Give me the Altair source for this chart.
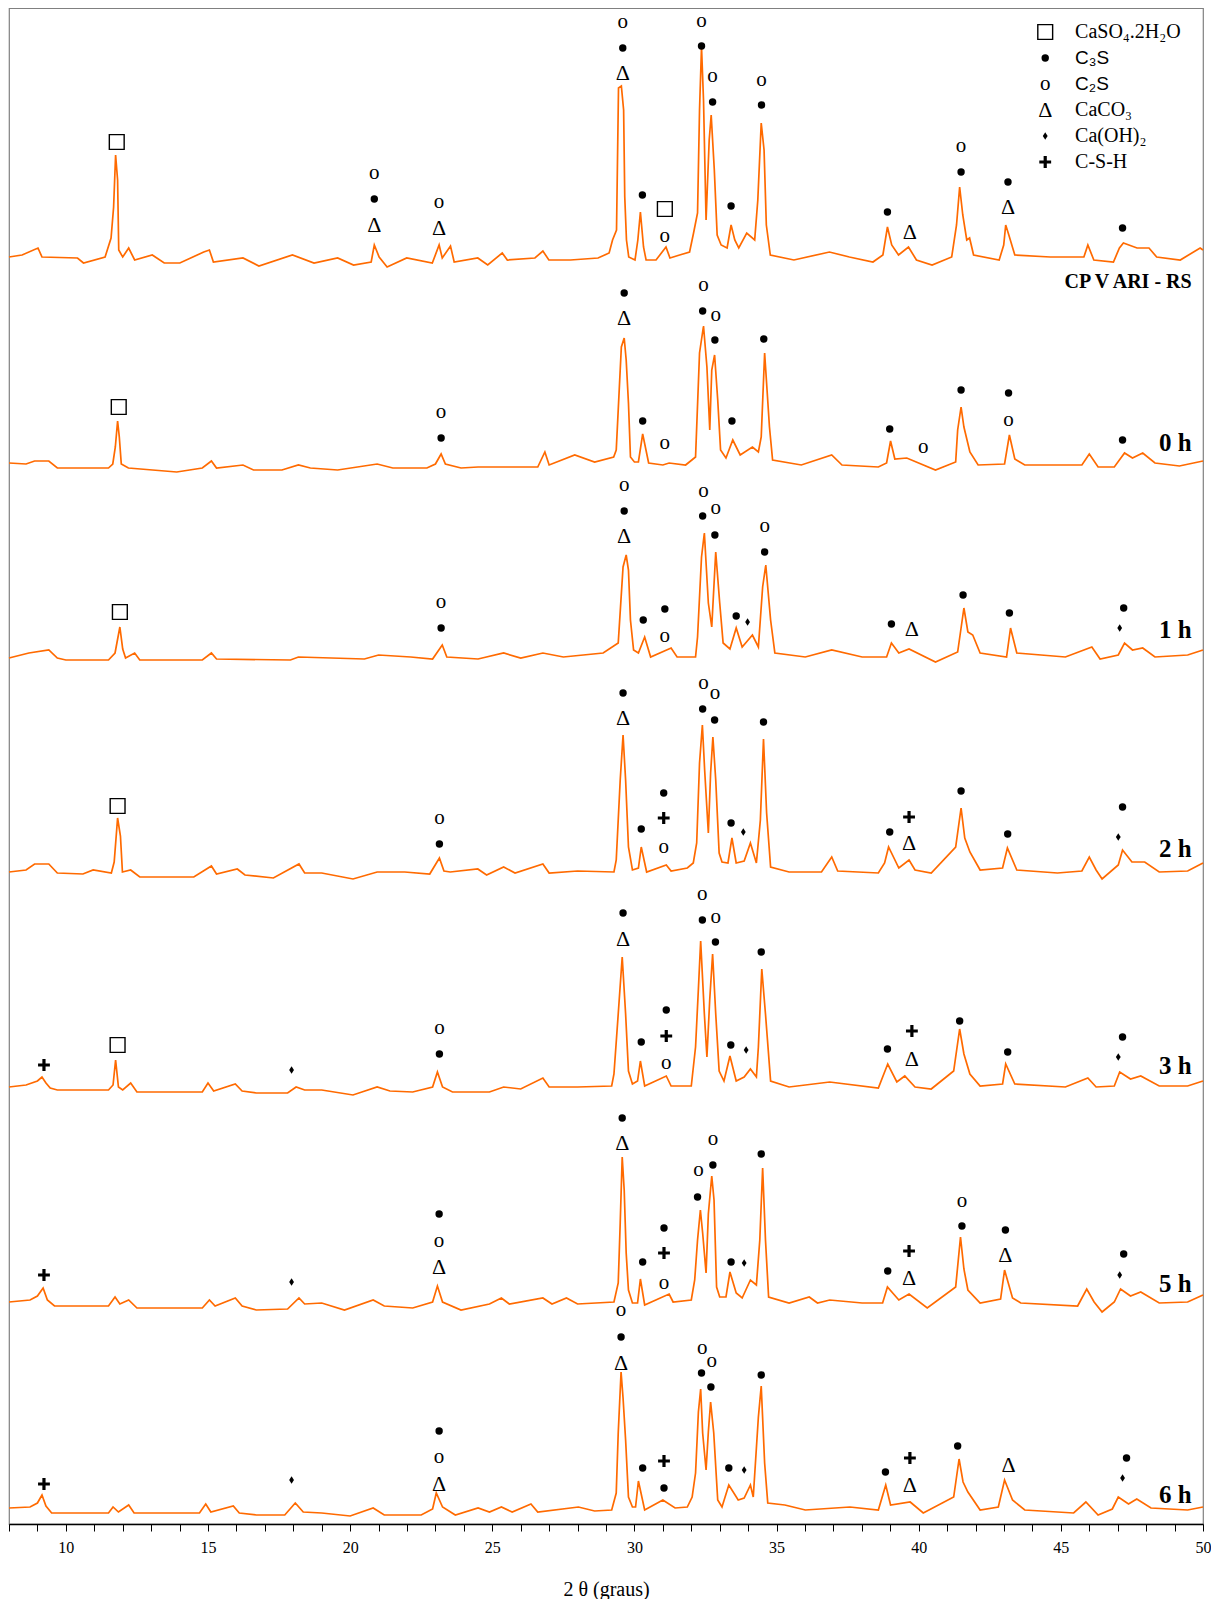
import altair as alt
import pandas as pd

# ---------------- data ----------------
X_MIN, X_MAX = 8, 50
Y_MAX = 1516  # vertical extent of the plot in intensity units (a.u.)

SERIES = ["CP V ARI - RS", "0 h", "1 h", "2 h", "3 h", "5 h", "6 h"]
OFFSETS = [1264, 1057, 867, 651, 435, 220, 12]     # vertical shift of each pattern
LABEL_X = 49.6
LABEL_REL = [-22, 24, 27, 24, 23, 20, 17]
LABEL_SIZE = [20, 25, 25, 25, 25, 25, 25]

# (2theta, intensity above the pattern's baseline)
CP = [[8.0,3],[8.46,5],[9.02,12],[9.16,3],[10.41,2],[10.62,-3],[11.38,3],[11.59,22],[11.68,53],[11.75,105],
      [11.82,80],[11.86,10],[12.0,3],[12.21,12],[12.42,0],[13.04,5],[13.46,-3],[14.01,-3],[14.85,8],[15.05,10],
      [15.19,-2],[16.23,2],[16.79,-6],[17.97,5],[18.73,-3],[19.56,2],[20.12,-5],[20.74,-2],[20.85,15],[21.02,3],
      [21.3,-7],[21.99,2],[22.89,-3],[23.13,15],[23.24,2],[23.53,14],[23.66,-2],[24.49,2],[24.84,-5],[25.35,7],
      [25.53,0],[26.5,2],[26.78,9],[26.99,0],[27.75,0],[28.72,2],[29.11,7],[29.23,20],[29.37,30],[29.44,172],
      [29.54,174],[29.62,150],[29.66,63],[29.72,20],[29.8,3],[30.02,0],[30.12,20],[30.21,48],[30.32,13],[30.41,0],
      [30.76,0],[31.11,13],[31.25,2],[31.59,5],[31.94,8],[32.08,27],[32.22,47],[32.29,150],[32.36,213],[32.43,160],
      [32.52,40],[32.63,120],[32.7,145],[32.81,90],[32.91,25],[33.05,15],[33.26,12],[33.4,35],[33.53,20],[33.67,12],
      [33.95,27],[34.23,20],[34.34,60],[34.46,137],[34.56,110],[34.64,35],[34.78,5],[35.61,0],[36.86,8],[37.56,3],
      [38.39,-2],[38.74,5],[38.9,33],[39.05,15],[39.29,5],[39.64,13],[39.92,0],[40.47,-5],[41.16,3],[41.33,35],
      [41.44,73],[41.55,45],[41.69,20],[41.79,22],[41.93,5],[42.83,0],[42.99,15],[43.06,35],[43.17,25],[43.38,5],
      [44.63,3],[45.81,3],[45.95,15],[46.16,0],[46.85,-2],[47.06,12],[47.2,17],[47.68,12],[48.1,12],[48.37,3],
      [49.2,0],[49.9,12],[50.0,10]]

H0 = [[8.0,4],[8.6,3],[8.9,6],[9.4,6],[9.7,-1],[11.5,-1],[11.65,3],[11.74,20],[11.82,46],[11.88,30],[11.95,3],
      [12.2,-1],[13.9,-5],[14.8,-1],[15.12,6],[15.3,-1],[16.23,2],[16.6,-3],[17.6,-3],[18.18,2],[18.6,-1],[19.56,-3],
      [20.95,3],[21.5,-1],[22.7,-1],[23.0,3],[23.2,13],[23.35,3],[23.9,-1],[24.5,0],[26.6,0],[26.85,15],[27.0,2],
      [27.9,12],[28.6,5],[29.27,10],[29.36,17],[29.54,120],[29.64,129],[29.71,107],[29.79,64],[29.86,10],[30.0,5],
      [30.14,5],[30.29,33],[30.5,4],[31.0,2],[31.22,4],[31.8,2],[32.15,10],[32.29,114],[32.43,141],[32.55,100],
      [32.65,37],[32.72,97],[32.82,112],[32.93,67],[33.03,17],[33.22,9],[33.46,27],[33.72,12],[34.15,20],[34.36,15],
      [34.46,30],[34.58,114],[34.75,40],[34.86,7],[35.87,2],[36.94,12],[37.3,2],[38.58,0],[38.87,4],[39.01,26],
      [39.16,8],[39.58,9],[40.59,-3],[41.3,5],[41.37,37],[41.49,60],[41.59,40],[41.8,15],[42.09,2],[43.02,3],
      [43.19,32],[43.38,8],[43.73,2],[45.74,2],[46.0,13],[46.31,0],[46.88,0],[47.24,14],[47.52,9],[47.88,14],
      [48.31,4],[49.17,1],[50.0,6]]

H1 = [[8.0,-1],[8.7,4],[9.4,7],[9.7,-1],[10.0,-3],[11.5,-3],[11.73,4],[11.9,30],[12.0,8],[12.1,-1],[12.42,4],
      [12.6,-3],[14.8,-3],[15.12,4],[15.3,-2],[17.9,-3],[18.18,0],[20.5,-2],[21.0,2],[22.13,0],[22.9,-2],[23.24,12],
      [23.4,0],[24.5,-2],[25.4,4],[26.0,-1],[26.78,4],[27.5,0],[28.9,4],[29.43,14],[29.6,90],[29.71,102],[29.79,87],
      [29.86,37],[29.97,7],[30.14,4],[30.36,20],[30.57,0],[31.29,9],[31.5,0],[32.15,0],[32.22,20],[32.36,100],
      [32.46,124],[32.6,54],[32.72,30],[32.86,105],[33.0,54],[33.12,14],[33.36,8],[33.58,29],[33.79,10],[34.15,22],
      [34.36,10],[34.51,70],[34.62,92],[34.79,37],[34.94,4],[36.01,0],[36.94,7],[38.01,0],[38.87,0],[39.04,14],
      [39.3,4],[39.66,8],[40.59,-5],[41.37,5],[41.59,49],[41.73,25],[41.9,22],[42.16,4],[43.09,0],[43.23,29],
      [43.45,4],[45.16,0],[46.09,10],[46.38,-2],[47.02,2],[47.24,14],[47.52,7],[47.88,9],[48.31,0],[49.46,2],[50.0,7]]

H2 = [[8.0,1],[8.6,3],[8.9,9],[9.4,9],[9.7,0],[10.6,-1],[10.96,3],[11.6,0],[11.7,11],[11.82,55],[11.92,37],
      [11.99,1],[12.28,3],[12.6,-4],[14.5,-4],[15.12,7],[15.3,-1],[16.03,4],[16.3,-2],[17.3,-5],[18.2,9],[18.4,0],
      [19.0,0],[20.1,-6],[20.95,1],[21.92,1],[22.8,-1],[23.14,15],[23.3,2],[23.52,1],[24.49,4],[24.8,-2],[25.4,6],
      [25.8,0],[26.78,9],[27.0,0],[28.0,2],[29.28,1],[29.36,13],[29.5,93],[29.6,138],[29.69,93],[29.79,26],[29.93,3],
      [30.14,5],[30.24,26],[30.43,1],[31.12,8],[31.29,2],[31.86,5],[32.07,10],[32.19,30],[32.29,110],[32.39,148],
      [32.47,103],[32.6,40],[32.68,100],[32.76,136],[32.86,93],[32.98,20],[33.08,11],[33.29,10],[33.43,35],[33.58,10],
      [33.86,12],[34.08,30],[34.29,10],[34.43,53],[34.54,134],[34.65,60],[34.79,6],[35.44,1],[36.58,1],[36.94,16],
      [37.15,2],[38.58,0],[38.8,10],[38.94,26],[39.3,5],[39.66,13],[39.87,3],[40.44,0],[41.3,26],[41.49,65],
      [41.62,35],[41.8,21],[42.16,3],[42.95,5],[43.12,25],[43.45,3],[44.88,0],[45.74,2],[46.0,16],[46.24,3],
      [46.45,-6],[47.02,8],[47.17,23],[47.5,11],[47.95,11],[48.46,1],[49.46,2],[50.0,10]]

H3 = [[8.0,2],[8.6,4],[9.0,8],[9.16,12],[9.3,6],[9.45,1],[9.7,-1],[11.5,-1],[11.66,4],[11.75,29],[11.85,2],
      [12.0,-1],[12.28,6],[12.5,-3],[14.8,-3],[15.0,6],[15.2,-2],[15.96,5],[16.2,-2],[16.7,-4],[17.8,-4],[18.1,2],
      [18.4,-1],[19.0,-1],[20.1,-6],[20.95,2],[21.4,-2],[22.2,-3],[22.9,2],[23.07,17],[23.25,2],[23.6,-3],[24.9,-3],
      [25.4,2],[26.0,0],[26.78,11],[27.0,2],[28.0,2],[29.2,3],[29.28,15],[29.43,75],[29.57,132],[29.69,75],
      [29.79,18],[29.93,5],[30.11,8],[30.21,28],[30.36,3],[31.12,13],[31.29,3],[32.0,3],[32.15,42],[32.25,100],
      [32.33,148],[32.46,75],[32.55,32],[32.65,90],[32.75,135],[32.86,75],[32.98,18],[33.15,8],[33.36,33],[33.58,8],
      [33.86,12],[34.08,20],[34.29,12],[34.36,42],[34.48,120],[34.61,75],[34.79,8],[35.44,2],[36.87,7],[38.58,1],
      [38.91,25],[39.23,7],[39.51,13],[39.87,2],[40.44,0],[41.23,18],[41.44,60],[41.59,35],[41.8,15],[42.16,3],
      [42.95,5],[43.06,25],[43.38,5],[45.16,2],[45.95,11],[46.24,2],[46.88,3],[47.07,17],[47.45,10],[47.81,13],
      [48.46,3],[49.46,3],[50.0,8]]

H5 = [[8.0,2],[8.74,4],[9.0,8],[9.2,16],[9.35,4],[9.6,-2],[11.5,-2],[11.73,7],[11.9,0],[12.21,4],[12.5,-4],
      [14.8,-4],[15.05,4],[15.25,-2],[15.96,6],[16.2,-2],[16.7,-6],[17.8,-5],[18.2,6],[18.4,0],[19.0,1],[19.8,-6],
      [20.81,4],[21.2,-2],[22.2,-4],[22.9,2],[23.07,18],[23.25,2],[23.9,-6],[24.9,0],[25.32,6],[25.6,0],[26.78,6],
      [27.1,0],[27.61,6],[28.0,0],[29.28,2],[29.43,21],[29.5,81],[29.57,147],[29.64,114],[29.71,51],[29.79,14],
      [29.93,1],[30.11,1],[30.21,25],[30.36,-1],[31.22,10],[31.36,2],[32.0,4],[32.12,24],[32.22,64],[32.32,94],
      [32.4,71],[32.52,31],[32.6,90],[32.72,128],[32.8,104],[32.89,17],[33.0,7],[33.22,7],[33.36,32],[33.58,11],
      [33.79,6],[34.08,24],[34.29,19],[34.41,64],[34.51,136],[34.61,64],[34.72,7],[35.44,1],[36.15,7],[36.44,1],
      [36.87,4],[38.01,1],[38.73,1],[38.9,17],[39.3,4],[39.66,10],[40.3,-4],[41.3,17],[41.47,67],[41.59,35],
      [41.73,14],[42.16,1],[42.88,5],[43.02,34],[43.3,6],[43.59,1],[45.59,-2],[45.91,15],[46.17,2],[46.45,-8],
      [46.88,2],[47.1,15],[47.45,8],[47.81,12],[48.46,1],[49.46,2],[50.0,9]]

H6 = [[8.0,4],[8.74,5],[9.0,9],[9.16,17],[9.3,6],[9.5,-1],[11.5,-1],[11.66,5],[11.85,0],[12.21,7],[12.4,-1],
      [14.7,-1],[14.92,8],[15.1,0],[15.89,6],[16.1,-1],[16.7,-3],[17.7,-3],[18.07,9],[18.35,0],[19.0,-1],[20.0,-4],
      [20.81,4],[21.2,-3],[22.5,-3],[22.9,3],[23.03,19],[23.25,5],[23.7,-3],[24.5,4],[24.9,0],[25.32,5],[25.7,0],
      [26.36,8],[26.6,0],[28.03,5],[28.6,1],[29.2,2],[29.36,19],[29.43,79],[29.53,140],[29.6,114],[29.69,72],
      [29.79,15],[29.93,5],[30.04,5],[30.14,31],[30.36,2],[31.0,12],[31.43,4],[31.86,5],[32.03,15],[32.15,39],
      [32.25,100],[32.33,123],[32.4,79],[32.52,42],[32.6,80],[32.68,110],[32.79,79],[32.93,12],[33.08,5],[33.32,27],
      [33.65,12],[33.86,14],[34.08,27],[34.18,15],[34.36,95],[34.46,126],[34.58,49],[34.69,9],[35.29,7],[36.01,2],
      [37.58,5],[38.58,2],[38.84,27],[39.01,7],[39.7,10],[40.16,-1],[41.23,15],[41.42,53],[41.56,30],[41.73,20],
      [42.16,2],[42.8,5],[43.02,32],[43.3,12],[43.73,2],[45.45,-1],[45.88,10],[46.31,-3],[46.81,3],[47.02,15],
      [47.38,8],[47.67,13],[48.17,4],[49.46,2],[50.0,5]]

PATTERNS = [CP, H0, H1, H2, H3, H5, H6]

# phase marks: (2theta, height above the pattern's baseline, symbol)
ANN_CP = [(11.79,118,"box"),(20.85,87,"o"),(20.85,61,"dot"),(20.85,35,"delta"),(23.13,58,"o"),(23.13,32,"delta"),
          (29.59,238,"o"),(29.59,212,"dot"),(29.59,187,"delta"),(30.28,65,"dot"),(31.07,51,"box"),(31.07,24,"o"),
          (32.36,239,"o"),(32.36,214,"dot"),(32.75,184,"o"),(32.75,158,"dot"),(33.4,54,"dot"),(34.47,180,"o"),
          (34.47,155,"dot"),(38.9,48,"dot"),(39.69,28,"delta"),(41.49,114,"o"),(41.49,88,"dot"),(43.14,78,"dot"),
          (43.14,53,"delta"),(47.17,32,"dot")]
ANN_0 = [(11.86,60,"box"),(23.2,55,"o"),(23.2,29,"dot"),(29.64,174,"dot"),(29.64,149,"delta"),(30.29,46,"dot"),
         (31.07,24,"o"),(32.43,182,"o"),(32.4,156,"dot"),(32.86,152,"o"),(32.83,127,"dot"),(33.43,46,"dot"),
         (34.55,128,"dot"),(38.98,38,"dot"),(40.16,20,"o"),(41.49,77,"dot"),(43.16,74,"dot"),(43.16,47,"o"),
         (47.17,27,"dot")]
ANN_1 = [(11.9,45,"box"),(23.2,55,"o"),(23.2,29,"dot"),(29.64,172,"o"),(29.64,146,"dot"),(29.64,121,"delta"),
         (30.31,37,"dot"),(31.07,48,"dot"),(31.07,21,"o"),(32.43,166,"o"),(32.4,141,"dot"),(32.86,149,"o"),
         (32.83,122,"dot"),(33.58,41,"dot"),(33.98,35,"diam"),(34.58,131,"o"),(34.58,105,"dot"),(39.04,33,"dot"),
         (39.76,28,"delta"),(41.56,62,"dot"),(43.19,44,"dot"),(47.21,49,"dot"),(47.07,29,"diam")]
ANN_2 = [(11.82,67,"box"),(23.14,55,"o"),(23.14,29,"dot"),(29.6,180,"dot"),(29.6,155,"delta"),(30.24,44,"dot"),
         (31.03,80,"dot"),(31.03,55,"plus"),(31.03,26,"o"),(32.43,190,"o"),(32.4,164,"dot"),(32.83,180,"o"),
         (32.82,153,"dot"),(33.4,50,"dot"),(33.83,41,"diam"),(34.54,151,"dot"),(38.98,41,"dot"),(39.66,56,"plus"),
         (39.66,30,"delta"),(41.49,82,"dot"),(43.13,39,"dot"),(47.17,66,"dot"),(47.02,36,"diam")]
ANN_3 = [(9.23,24,"plus"),(11.82,44,"box"),(17.94,19,"diam"),(23.14,61,"o"),(23.14,35,"dot"),(29.6,176,"dot"),
         (29.6,150,"delta"),(30.24,47,"dot"),(31.12,79,"dot"),(31.12,53,"plus"),(31.12,26,"o"),(32.39,195,"o"),
         (32.39,169,"dot"),(32.86,172,"o"),(32.85,147,"dot"),(33.39,44,"dot"),(33.93,39,"diam"),(34.46,137,"dot"),
         (38.9,40,"dot"),(39.76,58,"plus"),(39.76,30,"delta"),(41.44,68,"dot"),(43.13,37,"dot"),(47.17,52,"dot"),
         (47.02,32,"diam")]
ANN_5 = [(9.23,29,"plus"),(17.94,22,"diam"),(23.13,90,"dot"),(23.13,63,"o"),(23.13,37,"delta"),(29.57,186,"dot"),
         (29.57,161,"delta"),(30.29,42,"dot"),(31.04,76,"dot"),(31.04,51,"plus"),(31.04,21,"o"),(32.25,134,"o"),
         (32.22,107,"dot"),(32.76,165,"o"),(32.76,139,"dot"),(33.4,42,"dot"),(33.86,41,"diam"),(34.46,150,"dot"),
         (38.91,33,"dot"),(39.66,53,"plus"),(39.66,26,"delta"),(41.52,103,"o"),(41.52,78,"dot"),(43.05,74,"dot"),
         (43.05,49,"delta"),(47.21,50,"dot"),(47.07,29,"diam")]
ANN_6 = [(9.23,28,"plus"),(17.94,32,"diam"),(23.13,81,"dot"),(23.13,55,"o"),(23.13,28,"delta"),(29.53,202,"o"),
         (29.53,175,"dot"),(29.53,149,"delta"),(30.29,44,"dot"),(31.04,51,"plus"),(31.04,24,"dot"),(32.39,164,"o"),
         (32.36,139,"dot"),(32.72,151,"o"),(32.69,125,"dot"),(33.32,44,"dot"),(33.86,42,"diam"),(34.46,137,"dot"),
         (38.83,40,"dot"),(39.69,54,"plus"),(39.69,27,"delta"),(41.37,66,"dot"),(43.16,47,"delta"),(47.31,54,"dot"),
         (47.17,34,"diam")]
ANNS = [ANN_CP, ANN_0, ANN_1, ANN_2, ANN_3, ANN_5, ANN_6]

LEGEND_SYMS = ["box", "dot", "o", "delta", "diam", "plus"]
LEGEND_TEXT = ["CaSO₄.2H₂O", "C₃S", "C₂S", "CaCO₃", "Ca(OH)₂", "C-S-H"]
LEGEND_SANS = [False, True, True, False, False, False]
LEGEND_SYM_X, LEGEND_TXT_X = 44.45, 45.5
LEGEND_TOP, LEGEND_STEP = 1492, 26

GLYPH = {"o": "o", "delta": "Δ"}
GLYPH_SIZE = {"o": 21, "delta": 22}

# ---------------- tables ----------------
line_rows = []
for name, off, pts in zip(SERIES, OFFSETS, PATTERNS):
    for i, (t, v) in enumerate(pts):
        line_rows.append({"series": name, "idx": i, "tth": t, "y": off + v})
lines = pd.DataFrame(line_rows)

ann_rows = []
for name, off, ann in zip(SERIES, OFFSETS, ANNS):
    for t, h, s in ann:
        ann_rows.append({"tth": t, "y": off + h, "sym": s})
for i, s in enumerate(LEGEND_SYMS):
    ann_rows.append({"tth": LEGEND_SYM_X, "y": LEGEND_TOP - i * LEGEND_STEP, "sym": s})
ann = pd.DataFrame(ann_rows)
ann["glyph"] = ann["sym"].map(GLYPH).fillna("")
ann["fs"] = ann["sym"].map(GLYPH_SIZE).fillna(0)

legend = pd.DataFrame({
    "tth": [LEGEND_TXT_X] * len(LEGEND_TEXT),
    "y": [LEGEND_TOP - i * LEGEND_STEP for i in range(len(LEGEND_TEXT))],
    "label": LEGEND_TEXT,
    "sans": LEGEND_SANS,
})

labels = pd.DataFrame({
    "tth": [LABEL_X] * len(SERIES),
    "y": [o + r for o, r in zip(OFFSETS, LABEL_REL)],
    "label": SERIES,
    "fs": LABEL_SIZE,
})

# ---------------- chart ----------------
SERIF = "Liberation Serif"
xscale = alt.Scale(domain=[X_MIN, X_MAX], nice=False, zero=False)
yscale = alt.Scale(domain=[0, Y_MAX], nice=False, zero=False)

xaxis = alt.Axis(
    values=list(range(X_MIN, X_MAX + 1)),
    labelExpr="datum.value % 5 === 0 ? datum.label : ''",
    tickSize=7, tickColor="black", tickWidth=1,
    domainColor="black", domainWidth=1.6,
    labelFont=SERIF, labelFontSize=16, labelColor="black", labelPadding=8,
    labelFlush=False, labelOverlap=False, labelBound=False,
    grid=False,
    title="2 θ (graus)", titleFont=SERIF, titleFontSize=20, titleFontWeight="normal",
    titleColor="black", titlePadding=24,
)

X = alt.X("tth:Q", scale=xscale, axis=xaxis)
Xn = alt.X("tth:Q", scale=xscale, axis=xaxis)
Y = alt.Y("y:Q", scale=yscale, axis=None)

line = alt.Chart(lines).mark_line(color="#FF6A00", strokeWidth=1.7, interpolate="linear").encode(
    x=X, y=Y, detail="series:N", order="idx:Q"
)

base_ann = alt.Chart(ann)
glyphs = base_ann.transform_filter("datum.glyph != ''").mark_text(
    font=SERIF, color="black", baseline="middle", align="center"
).encode(x=Xn, y=Y, text="glyph:N", size=alt.Size("fs:Q", scale=None))

PLUS_PATH = "M-1,-0.27H-0.27V-1H0.27V-0.27H1V0.27H0.27V1H-0.27V0.27H-1Z"
DIAM_PATH = "M0,-1L0.62,0L0,1L-0.62,0Z"

boxes = base_ann.transform_filter("datum.sym == 'box'").mark_point(
    shape="square", filled=False, stroke="black", strokeWidth=1.4, size=220, opacity=1
).encode(x=Xn, y=Y)
dots = base_ann.transform_filter("datum.sym == 'dot'").mark_point(
    shape="circle", filled=True, color="black", size=55, opacity=1
).encode(x=Xn, y=Y)
diams = base_ann.transform_filter("datum.sym == 'diam'").mark_point(
    shape=DIAM_PATH, filled=True, color="black", size=60, opacity=1
).encode(x=Xn, y=Y)
pluses = base_ann.transform_filter("datum.sym == 'plus'").mark_point(
    shape=PLUS_PATH, filled=True, color="black", size=140, opacity=1
).encode(x=Xn, y=Y)

leg_serif = alt.Chart(legend).transform_filter("!datum.sans").mark_text(
    font=SERIF, fontSize=20, color="black", align="left", baseline="middle"
).encode(x=Xn, y=Y, text="label:N")
leg_sans = alt.Chart(legend).transform_filter("datum.sans").mark_text(
    font="Liberation Sans", fontSize=19, color="black", align="left", baseline="middle"
).encode(x=Xn, y=Y, text="label:N")

series_labels = alt.Chart(labels).mark_text(
    font=SERIF, fontWeight="bold", color="black", align="right", baseline="middle"
).encode(x=Xn, y=Y, text="label:N", size=alt.Size("fs:Q", scale=None))

chart = alt.layer(
    line, glyphs, boxes, dots, diams, pluses, leg_serif, leg_sans, series_labels
).properties(
    width=1194, height=1516,
    autosize=alt.AutoSizeParams(type="none"),
    padding={"left": 1, "top": 0, "right": 8, "bottom": 75},
).configure_view(
    stroke="#808080", strokeWidth=1.2
).configure_axis(
    labelFont=SERIF, titleFont=SERIF
)

chart.save("out.html", embed_options={"renderer": "svg", "actions": False})
